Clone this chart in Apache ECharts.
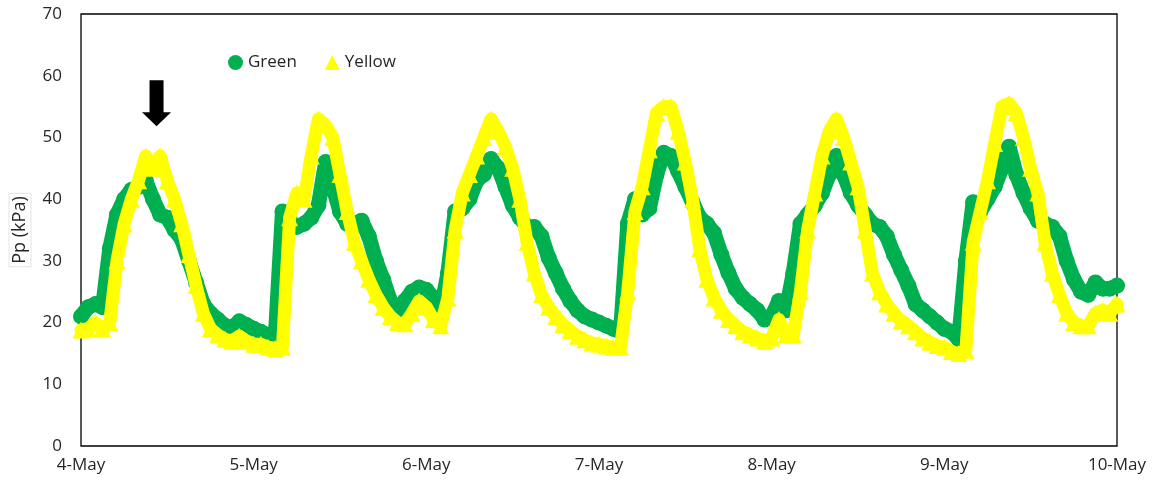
<!DOCTYPE html>
<html>
<head>
<meta charset="utf-8">
<title>Pp</title>
<style>
  html, body { margin: 0; padding: 0; background: #fff; }
  #main { width: 1158px; height: 486px; }
</style>
</head>
<body>
<div id="main"></div>
<script src="https://cdn.jsdelivr.net/npm/echarts@6/dist/echarts.min.js"></script>
<script>
// hourly readings, 4-May 00:00 .. 10-May 00:00
var dayLabels = ['4-May', '5-May', '6-May', '7-May', '8-May', '9-May', '10-May'];

var green = [
    21, 22.5, 23, 22.5, 32, 37.5, 40, 41.5, 42, 43, 40, 37.5, 37, 35, 33.5, 30, 26.5, 23, 21.5, 20.5, 19.5, 19.2, 20.2, 19.6,
    19, 18.5, 18, 17.5, 38, 36.5, 35.5, 36, 37, 39, 46, 42, 38, 36, 36, 36.5, 34, 30, 27, 23.5, 21.5, 23.5, 25, 25.7,
    25.3, 24, 22, 28, 38, 38.5, 40, 43, 44, 46.5, 45, 42, 39, 37, 35.5, 35.5, 34, 30.5, 28, 25.5, 23.5, 22, 21, 20.5,
    20, 19.5, 19, 18.5, 36, 40, 37.5, 38.5, 44, 47.5, 47, 44.5, 42, 39.5, 37, 36, 34.5, 31, 28, 25.5, 24, 23, 22, 20.5,
    21, 23.5, 22, 28, 36, 37.5, 39, 41, 44, 47, 44, 41, 39, 37.5, 36, 35.5, 34, 31, 28.5, 26, 23, 22, 21, 20,
    19, 18.5, 17.3, 30, 39.5, 38, 40, 42, 45, 48.5, 44, 41, 38.5, 36.5, 36, 35.5, 34, 30, 27, 25, 24.5, 26.5, 25.5, 25.5,
    26
];

var yellow = [
    18.8, 19, 20, 19, 20, 30, 36, 40, 43, 47, 45, 47, 43, 40, 36, 31, 26, 21.5, 19, 18, 17.3, 17, 17.8, 17,
    16.5, 16.5, 16, 15.8, 16, 37, 41, 40, 47, 53, 52, 50, 44, 38, 33, 30, 27, 24.5, 22.5, 21, 20, 19.8, 21.5, 23.5,
    22.5, 20.5, 19.5, 24, 35, 41, 44, 47, 50, 53, 51, 48.5, 45, 40, 33, 28, 24.5, 22.5, 21, 19.7, 18.7, 17.8, 17.2, 16.7,
    16.5, 16.2, 16, 16, 25, 38, 42, 48, 54, 55, 55, 51, 46, 40, 32, 27, 24, 22, 20.5, 19.5, 18.5, 18, 17.5, 17,
    17.5, 20.5, 18, 18, 25, 35, 41, 47, 51, 53, 50, 46, 42, 35, 28, 25, 23, 21.5, 20.3, 19.5, 18.5, 17.5, 16.8, 16.3,
    16, 15.3, 15, 15.5, 33, 38, 43, 49, 55, 55.5, 54, 50, 45, 41, 33, 28, 24.5, 21.5, 20, 19.5, 19.5, 21.5, 22, 21.5,
    23
];

function toPairs(arr) {
    return arr.map(function (v, i) { return [i, v]; });
}

var myChart = echarts.init(document.getElementById('main'));

var option = {
    animation: false,
    backgroundColor: '#fff',
    textStyle: { fontFamily: '"Open Sans", sans-serif' },
    grid: {
        left: 81, right: 41, top: 14, bottom: 40,
        show: true,
        borderColor: '#000',
        borderWidth: 1.3
    },
    legend: {
        left: 223, top: 49,
        itemWidth: 15, itemHeight: 15,
        itemGap: 28,
        textStyle: { fontSize: 17, color: '#262626', fontFamily: '"Open Sans", sans-serif' },
        data: [
            { name: 'Green', icon: 'circle' },
            { name: 'Yellow', icon: 'triangle' }
        ]
    },
    xAxis: {
        type: 'value',
        min: 0, max: 144, interval: 24,
        axisLine: { show: false },
        axisTick: { show: false },
        splitLine: { show: false },
        axisLabel: {
            fontSize: 17, color: '#262626', margin: 11,
            formatter: function (v) { return dayLabels[Math.round(v / 24)]; }
        }
    },
    yAxis: {
        type: 'value',
        min: 0, max: 70, interval: 10,
        name: 'Pp (kPa)',
        nameLocation: 'middle',
        nameGap: 50,
        nameTextStyle: {
            fontSize: 18, color: '#262626',
            borderColor: '#e4e4e4', borderWidth: 1, padding: [2, 3]
        },
        axisLine: { show: false },
        axisTick: { show: false },
        splitLine: { show: false },
        axisLabel: { fontSize: 17, color: '#262626', margin: 19 }
    },
    series: [
        {
            name: 'Green',
            type: 'line',
            clip: false,
            data: toPairs(green),
            symbol: 'circle',
            symbolSize: 16,
            showAllSymbol: true,
            itemStyle: { color: '#00b050' },
            lineStyle: { color: '#00b050', width: 15, join: 'round', cap: 'round' },
            z: 2
        },
        {
            name: 'Yellow',
            type: 'line',
            clip: false,
            data: toPairs(yellow),
            symbol: 'triangle',
            symbolSize: 17,
            showAllSymbol: true,
            itemStyle: { color: '#ffff00' },
            lineStyle: { color: '#ffff00', width: 13, join: 'round', cap: 'round' },
            z: 3,
            markPoint: {
                symbol: 'path://M7.5,0 L21.5,0 L21.5,32 L29,32 L14.5,46 L0,32 L7.5,32 Z',
                symbolSize: [29, 46],
                symbolOffset: [0, -23],
                itemStyle: { color: '#000' },
                label: { show: false },
                data: [{ coord: [10.5, 51.8] }]
            }
        }
    ]
};

myChart.setOption(option);
window.addEventListener('resize', function () {
    myChart.resize();
});
</script>
</body>
</html>
